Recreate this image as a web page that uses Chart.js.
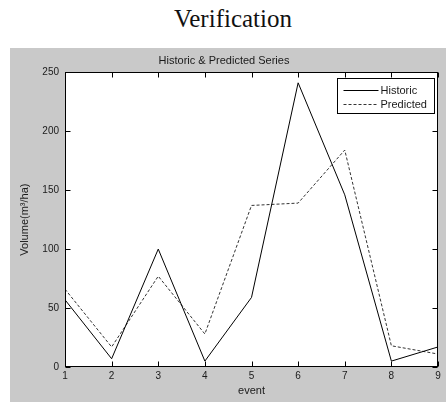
<!DOCTYPE html>
<html>
<head>
<meta charset="utf-8">
<script src="https://cdn.jsdelivr.net/npm/chart.js@4.4.1/dist/chart.umd.min.js"></script>
<style>
  html, body { margin: 0; padding: 0; background: #ffffff; }
  body { width: 446px; height: 402px; position: relative; overflow: hidden; }
  #heading {
    position: absolute; left: 133px; top: 4px; width: 200px; text-align: center;
    font-family: "Liberation Serif", "DejaVu Serif", serif; font-size: 25px; color: #111;
    line-height: 30px;
  }
  #figure {
    position: absolute; left: 10px; top: 48px; width: 436px; height: 354px;
    background: #c9c9c9;
  }
  #chart { display: block; }
</style>
</head>
<body>
<div id="heading">Verification</div>
<div id="figure"><canvas id="chart" width="436" height="354"></canvas></div>
<script>
// Event index on the x axis
const events = [1, 2, 3, 4, 5, 6, 7, 8, 9];
// Observed volumes (m³/ha)
const historic = [57, 7, 100, 5, 59, 241, 146, 5, 17];
// Model output (m³/ha)
const predicted = [66, 17, 77, 28, 137, 139, 184, 18, 11];
// Axis tick values
const xTicks = [1, 2, 3, 4, 5, 6, 7, 8, 9];
const yTicks = [0, 50, 100, 150, 200, 250];

const FONT = '"Liberation Sans", Arial, sans-serif';
const INK = '#1a1a1a';

// White plotting area, axes box, inward tick marks on all four sides and the boxed legend
const axesBox = {
  id: 'axesBox',
  beforeDraw(chart) {
    const { ctx, chartArea: a } = chart;
    ctx.save();
    ctx.fillStyle = '#ffffff';
    ctx.fillRect(a.left, a.top, a.right - a.left, a.bottom - a.top);
    ctx.restore();
  },
  afterDatasetsDraw(chart) {
    const { ctx, chartArea: a, scales } = chart;
    const L = Math.round(a.left) + 0.5, R = Math.round(a.right) - 0.5;
    const T = Math.round(a.top) + 0.5, B = Math.round(a.bottom) - 0.5;
    ctx.save();
    ctx.strokeStyle = '#000';
    ctx.lineWidth = 1;
    ctx.setLineDash([]);
    ctx.strokeRect(L, T, R - L, B - T);
    const len = 5;
    ctx.beginPath();
    xTicks.forEach(v => {
      const px = Math.round(scales.x.getPixelForValue(v)) + 0.5;
      ctx.moveTo(px, B); ctx.lineTo(px, B - len);
      ctx.moveTo(px, T); ctx.lineTo(px, T + len);
    });
    yTicks.forEach(v => {
      const py = Math.round(scales.y.getPixelForValue(v)) + 0.5;
      ctx.moveTo(L, py); ctx.lineTo(L + len, py);
      ctx.moveTo(R, py); ctx.lineTo(R - len, py);
    });
    ctx.stroke();

    // legend
    const bw = 97, bh = 35;
    const bx = Math.round(a.right) - 4 - bw + 0.5;
    const by = Math.round(a.top) + 6 + 0.5;
    ctx.fillStyle = '#fff';
    ctx.fillRect(bx, by, bw, bh);
    ctx.strokeStyle = '#000';
    ctx.strokeRect(bx, by, bw, bh);
    ctx.font = '11px ' + FONT;
    ctx.textBaseline = 'middle';
    ctx.textAlign = 'left';
    chart.data.datasets.forEach((ds, i) => {
      const ly = Math.round(by + 11 + i * 14) + 0.5;
      ctx.strokeStyle = ds.borderColor;
      ctx.lineWidth = ds.borderWidth;
      ctx.setLineDash(ds.borderDash || []);
      ctx.beginPath();
      ctx.moveTo(bx + 6, ly);
      ctx.lineTo(bx + 41, ly);
      ctx.stroke();
      ctx.setLineDash([]);
      ctx.fillStyle = INK;
      ctx.fillText(ds.label, bx + 43, ly);
    });
    ctx.restore();
  }
};

new Chart(document.getElementById('chart'), {
  type: 'line',
  data: {
    labels: events,
    datasets: [
      {
        label: 'Historic',
        data: events.map((e, i) => ({ x: e, y: historic[i] })),
        borderColor: '#000000',
        borderWidth: 1,
        pointRadius: 0,
        tension: 0,
        fill: false
      },
      {
        label: 'Predicted',
        data: events.map((e, i) => ({ x: e, y: predicted[i] })),
        borderColor: '#333333',
        borderWidth: 1,
        borderDash: [3, 2],
        pointRadius: 0,
        tension: 0,
        fill: false
      }
    ]
  },
  options: {
    responsive: false,
    devicePixelRatio: 1,
    animation: false,
    layout: { padding: { top: 0, right: 8, bottom: 0, left: 0 } },
    plugins: {
      legend: { display: false },
      tooltip: { enabled: false },
      title: {
        display: true,
        text: 'Historic & Predicted Series',
        color: INK,
        font: { family: FONT, size: 11, weight: 'normal' },
        padding: { top: 6, bottom: 5 }
      }
    },
    scales: {
      x: {
        type: 'linear',
        min: 1, max: 9,
        border: { display: false },
        grid: { display: false, drawTicks: false },
        ticks: {
          stepSize: 1, autoSkip: false, maxRotation: 0,
          color: INK, padding: 3,
          font: { family: FONT, size: 10 }
        },
        title: {
          display: true, text: 'event', color: INK,
          font: { family: FONT, size: 11 },
          padding: { top: 0, bottom: 4 }
        },
        afterFit(scale) { scale.height = 35; }
      },
      y: {
        type: 'linear',
        min: 0, max: 250,
        border: { display: false },
        grid: { display: false, drawTicks: false },
        ticks: {
          stepSize: 50, color: INK, padding: 6,
          font: { family: FONT, size: 10 }
        },
        title: {
          display: true, text: 'Volume(m³/ha)', color: INK,
          font: { family: FONT, size: 11 },
          padding: { top: 8.5, bottom: 0 }
        },
        afterFit(scale) { scale.width = 55; }
      }
    }
  },
  plugins: [axesBox]
});
</script>
</body>
</html>
